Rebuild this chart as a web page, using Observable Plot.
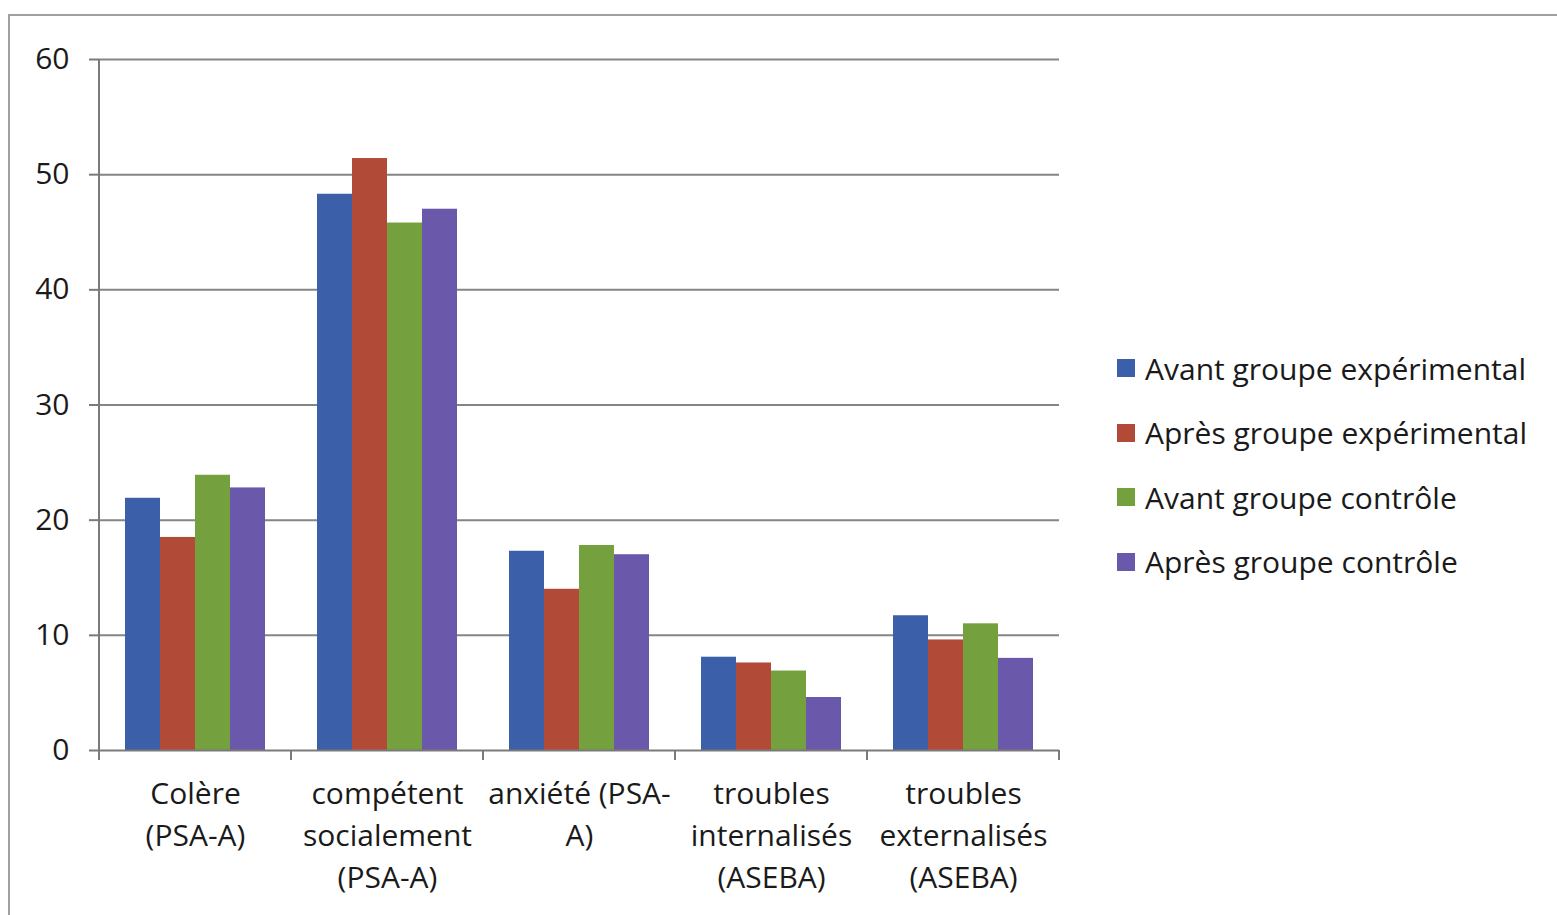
<!DOCTYPE html>
<html><head><meta charset="utf-8">
<script src="https://cdn.jsdelivr.net/npm/d3@7"></script>
<script src="https://cdn.jsdelivr.net/npm/@observablehq/plot@0.6"></script>
<style>
body{margin:0;background:#fff;font-family:"Open Sans",sans-serif;}
#wrap{position:relative;width:1557px;height:915px;overflow:hidden;background:#fff}
#border{position:absolute;left:8px;top:14px;width:1600px;height:1000px;border-left:2px solid #a0a0a0;border-top:2px solid #a0a0a0}
#chart{position:absolute;left:0;top:0}
#legend{position:absolute;left:1117px;top:336px;}
.row{display:flex;align-items:center;height:64.5px;font-size:30px;color:#1a1a1a;white-space:nowrap}
.sw{width:18px;height:18px;margin-right:10px;flex:none}
</style></head><body>
<div id="wrap"><div id="border"></div><div id="chart"></div><div id="legend"></div></div>
<script>
const categories = ["Colère (PSA-A)", "compétent socialement (PSA-A)", "anxiété (PSA-A)", "troubles internalisés (ASEBA)", "troubles externalisés (ASEBA)"];
const categoryLabels = ["Colère\n(PSA-A)", "compétent\nsocialement\n(PSA-A)", "anxiété (PSA-\nA)", "troubles\ninternalisés\n(ASEBA)", "troubles\nexternalisés\n(ASEBA)"];
const series = ["Avant groupe expérimental", "Après groupe expérimental", "Avant groupe contrôle", "Après groupe contrôle"];
const colors = ["#3b5fa8", "#b24a38", "#75a03e", "#6a58aa"];
const avantExperimental = [21.9, 48.3, 17.3, 8.1, 11.7];
const apresExperimental = [18.5, 51.4, 14.0, 7.6, 9.6];
const avantControle = [23.9, 45.8, 17.8, 6.9, 11.0];
const apresControle = [22.8, 47.0, 17.0, 4.6, 8.0];
const yTicks = [0, 10, 20, 30, 40, 50, 60];

const seriesValues = [avantExperimental, apresExperimental, avantControle, apresControle];
const data = [];
categories.forEach((c, i) => series.forEach((s, k) => data.push({category: c, series: s, value: seriesValues[k][i]})));
const labelData = categories.map((c, i) => ({category: c, label: categoryLabels[i]}));

const chart = Plot.plot({
  width: 1557, height: 915,
  marginLeft: 98, marginRight: 497, marginTop: 59, marginBottom: 165,
  style: {fontFamily: "'Open Sans', sans-serif", fontSize: "30px", color: "#1a1a1a", background: "transparent"},
  fx: {domain: categories, paddingInner: 0, paddingOuter: 0, axis: null, label: null},
  x: {domain: series, paddingInner: 0, paddingOuter: 0.734, axis: null, label: null},
  y: {domain: [0, 60], ticks: yTicks, label: null},
  color: {domain: series, range: colors},
  marks: [
    Plot.ruleY(yTicks.slice(1), {stroke: "#858585", strokeWidth: 2}),
    Plot.barY(data, {fx: "category", x: "series", y: "value", fill: "series"}),
    Plot.ruleY([0], {stroke: "#7a7a7a", strokeWidth: 2}),
    Plot.axisY({ticks: yTicks, tickSize: 10, tickPadding: 20, fontSize: 30, label: null, stroke: "#7a7a7a", strokeWidth: 2, fill: "#1a1a1a"}),
    Plot.text(labelData, {fx: "category", text: "label", frameAnchor: "bottom", lineAnchor: "top", dy: 24, lineHeight: 1.4, fontSize: 30, fill: "#1a1a1a"})
  ]
});
document.getElementById("chart").appendChild(chart);

// axis line and category separator ticks, positioned with the plot's own scales
const fx = chart.scale("fx"), y = chart.scale("y");
const svg = d3.select(chart);
const y0 = y.apply(0), yTop = y.apply(60);
const left = fx.apply(categories[0]);
svg.append("line").attr("x1", left).attr("x2", left).attr("y1", yTop).attr("y2", y0 + 10)
  .attr("stroke", "#7a7a7a").attr("stroke-width", 2);
const bounds = categories.map(c => fx.apply(c)).concat([fx.apply(categories[categories.length - 1]) + fx.bandwidth]);
bounds.forEach(b => svg.append("line").attr("x1", b).attr("x2", b).attr("y1", y0).attr("y2", y0 + 10)
  .attr("stroke", "#7a7a7a").attr("stroke-width", 2));

const legend = document.getElementById("legend");
series.forEach((s, k) => {
  const row = document.createElement("div"); row.className = "row";
  const sw = document.createElement("span"); sw.className = "sw"; sw.style.background = colors[k];
  const t = document.createElement("span"); t.textContent = s;
  row.appendChild(sw); row.appendChild(t); legend.appendChild(row);
});
</script>
</body></html>
